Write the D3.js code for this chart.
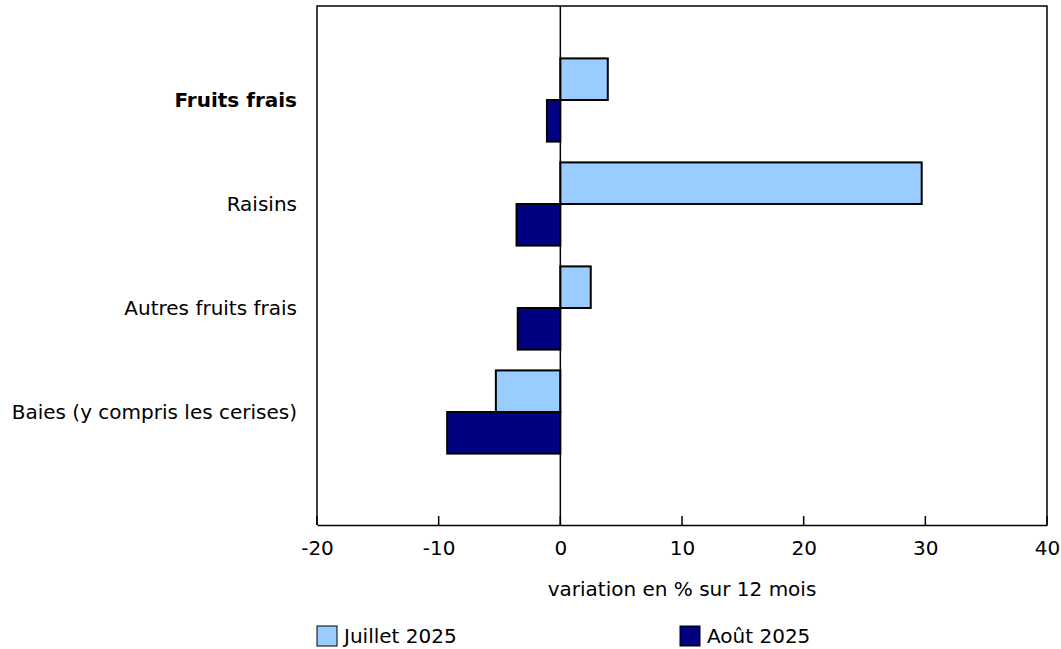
<!DOCTYPE html>
<html>
<head>
<meta charset="utf-8">
<script src="https://cdn.jsdelivr.net/npm/d3@7"></script>
<style>
  body { margin: 0; background: #fff; }
  svg text { font-family: "DejaVu Sans", Verdana, sans-serif; font-size: 20px; fill: #000; }
</style>
</head>
<body>
<svg id="chart" width="1061" height="649"></svg>
<script>
// data
var categories = ['Fruits frais', 'Raisins', 'Autres fruits frais', 'Baies (y compris les cerises)'];
var julyValues = [3.9, 29.7, 2.5, -5.3];
var augValues = [-1.1, -3.6, -3.5, -9.3];
var seriesNames = ['Juillet 2025', 'Août 2025'];
var seriesColors = ['#99ccff', '#000080'];
var xTicks = [-20, -10, 0, 10, 20, 30, 40];

var svg = d3.select('#chart');
var plotLeft = 317, plotRight = 1047, plotTop = 6, plotBottom = 525;

var x = d3.scaleLinear().domain([-20, 40]).range([plotLeft, plotRight]);
var y = d3.scaleBand().domain(categories).range([48, 464]).paddingInner(0.2).paddingOuter(0.1);
var sub = d3.scaleBand().domain([0, 1]).range([0, y.bandwidth()]);

// frame
svg.append('path')
  .attr('d', 'M' + plotLeft + ',' + plotBottom + 'V' + plotTop + 'H' + plotRight + 'V' + plotBottom)
  .attr('fill', 'none').attr('stroke', '#000').attr('stroke-width', 1.5);

// bars
var rows = categories.map(function(c, i) { return {cat: c, vals: [julyValues[i], augValues[i]]}; });
rows.forEach(function(r) {
  r.vals.forEach(function(v, s) {
    svg.append('rect')
      .attr('x', x(Math.min(0, v)))
      .attr('y', y(r.cat) + sub(s))
      .attr('width', Math.abs(x(v) - x(0)))
      .attr('height', sub.bandwidth())
      .attr('fill', seriesColors[s])
      .attr('stroke', '#000').attr('stroke-width', 2);
  });
});

// zero line
svg.append('line')
  .attr('x1', x(0)).attr('x2', x(0)).attr('y1', plotTop).attr('y2', plotBottom)
  .attr('stroke', '#000').attr('stroke-width', 1.5);

// x axis: labels from d3, tick marks drawn upward into the plot
var xAxis = svg.append('g')
  .attr('transform', 'translate(0,' + plotBottom + ')')
  .call(d3.axisBottom(x).tickValues(xTicks).tickSize(0).tickPadding(16)
    .tickFormat(function(d) { return String(d); }));
xAxis.select('.domain').attr('stroke', '#000').attr('stroke-width', 1.5);
xAxis.selectAll('.tick line').remove();
xAxis.selectAll('text').attr('font-size', 20).attr('font-family', '"DejaVu Sans", Verdana, sans-serif');

svg.selectAll('.xtick').data(xTicks).enter().append('line')
  .attr('x1', function(d) { return x(d); }).attr('x2', function(d) { return x(d); })
  .attr('y1', plotBottom).attr('y2', plotBottom - 9)
  .attr('stroke', '#000').attr('stroke-width', 1.5);

svg.append('text')
  .attr('x', x(10)).attr('y', 596)
  .attr('text-anchor', 'middle')
  .text('variation en % sur 12 mois');

// category labels
svg.selectAll('.cat').data(categories).enter().append('text')
  .attr('x', 297)
  .attr('y', function(d) { return y(d) + y.bandwidth() / 2; })
  .attr('dy', '0.35em')
  .attr('text-anchor', 'end')
  .attr('font-weight', function(d, i) { return i == 0 ? 'bold' : 'normal'; })
  .text(function(d) { return d; });

// legend
var legX = [317, 680];
seriesNames.forEach(function(name, i) {
  svg.append('rect')
    .attr('x', legX[i]).attr('y', 626).attr('width', 20).attr('height', 20)
    .attr('fill', seriesColors[i]).attr('stroke', '#000').attr('stroke-width', 1);
  svg.append('text')
    .attr('x', legX[i] + 27).attr('y', 636).attr('dy', '0.35em')
    .text(name);
});
</script>
</body>
</html>
